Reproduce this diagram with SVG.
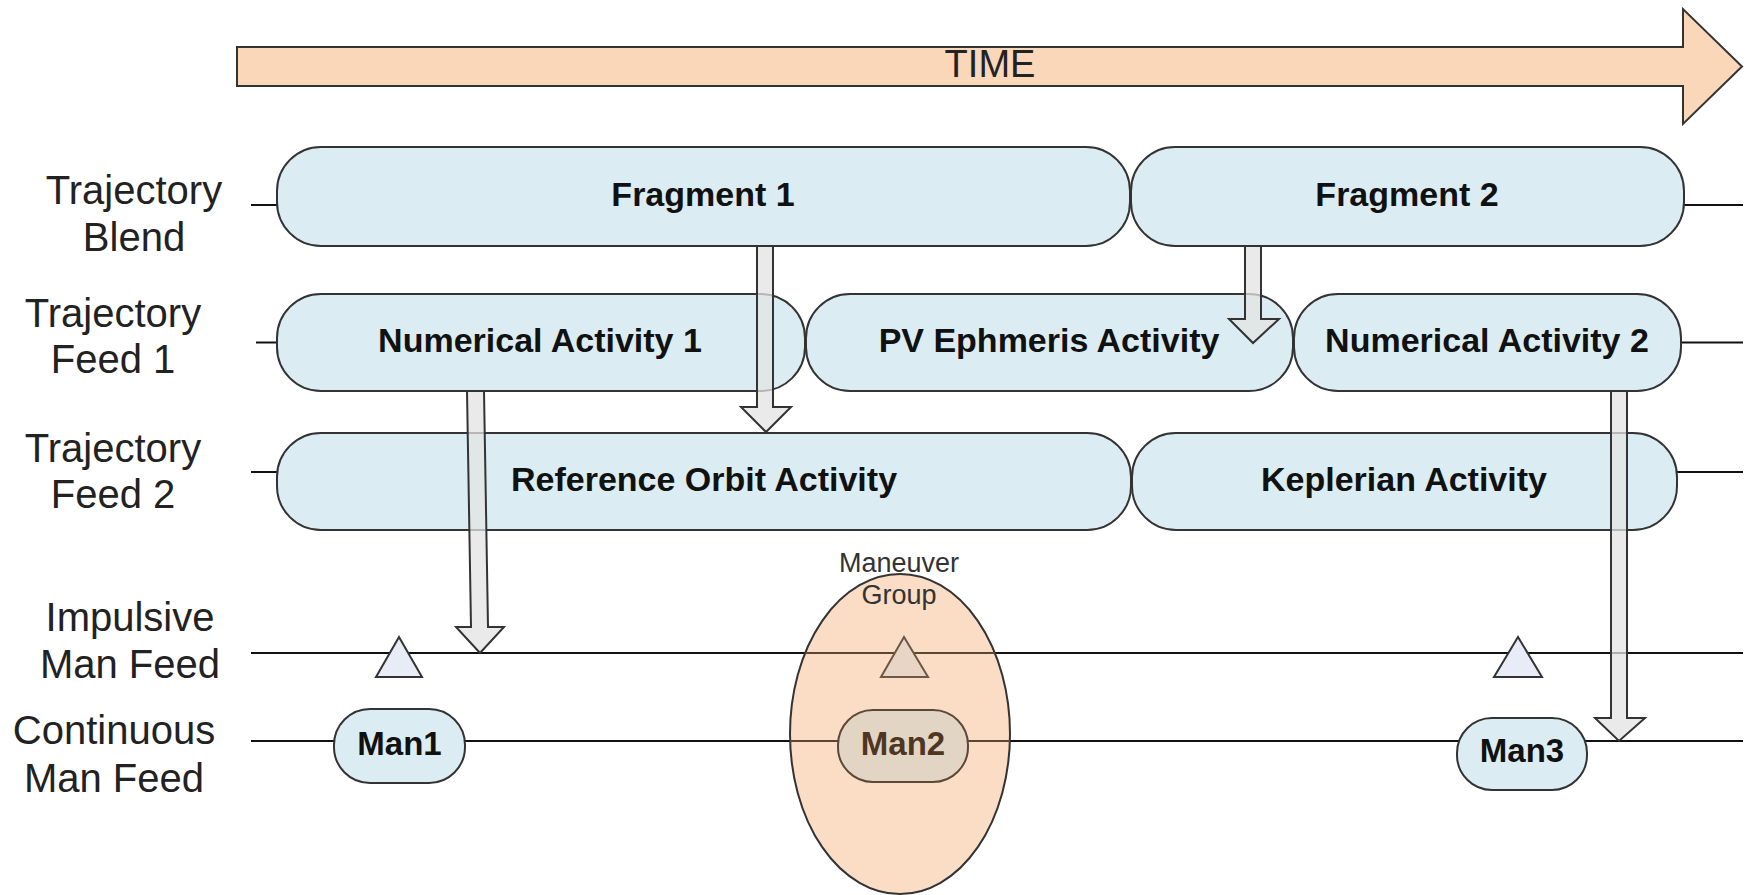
<svg xmlns="http://www.w3.org/2000/svg" width="1750" height="895" viewBox="0 0 1750 895">
  <style>
    .lbl { font-family: "Liberation Sans", Arial, sans-serif; font-size: 40px; fill: #222; text-anchor: middle; }
    .box { fill: #dbedf3; stroke: #333; stroke-width: 2; }
    .btxt { font-family: "Liberation Sans", Arial, sans-serif; font-size: 34px; font-weight: bold; fill: #111; text-anchor: middle; }
    .mtxt { font-family: "Liberation Sans", Arial, sans-serif; font-size: 33px; font-weight: bold; fill: #111; text-anchor: middle; }
    .tl { stroke: #111; stroke-width: 2; fill: none; }
    .tri { fill: #e8ecf7; stroke: #333; stroke-width: 2; }
    .garrow { fill: #e3e3e3; fill-opacity: 0.75; stroke: #333; stroke-width: 2; stroke-linejoin: miter; }
  </style>

  <g id="time-arrow">
    <polygon points="237,47 1683,47 1683,9 1742,66.5 1683,124 1683,86 237,86" fill="#fad7b9" stroke="#333" stroke-width="2"/>
    <text x="990" y="77" font-family="Liberation Sans, Arial, sans-serif" font-size="38" fill="#222" text-anchor="middle">TIME</text>
  </g>

  <g id="row-labels">
    <text class="lbl" x="134" y="204">Trajectory</text>
    <text class="lbl" x="134" y="251">Blend</text>
    <text class="lbl" x="113" y="327">Trajectory</text>
    <text class="lbl" x="113" y="373">Feed 1</text>
    <text class="lbl" x="113" y="462">Trajectory</text>
    <text class="lbl" x="113" y="508">Feed 2</text>
    <text class="lbl" x="130" y="631">Impulsive</text>
    <text class="lbl" x="130" y="678">Man Feed</text>
    <text class="lbl" x="114" y="744">Continuous</text>
    <text class="lbl" x="114" y="792">Man Feed</text>
  </g>

  <g id="timelines">
    <line class="tl" x1="251" y1="205" x2="277" y2="205"/>
    <line class="tl" x1="1684" y1="205" x2="1743" y2="205"/>
    <line class="tl" x1="256" y1="342.5" x2="277" y2="342.5"/>
    <line class="tl" x1="1681" y1="342.5" x2="1743" y2="342.5"/>
    <line class="tl" x1="251" y1="472" x2="277" y2="472"/>
    <line class="tl" x1="1677" y1="472" x2="1743" y2="472"/>
    <line class="tl" x1="251" y1="653" x2="1743" y2="653"/>
    <line class="tl" x1="251" y1="741" x2="1743" y2="741"/>
  </g>

  <g id="fragment-1"><rect class="box" x="277" y="147" width="853" height="99" rx="44"/><text class="btxt" x="703" y="206">Fragment 1</text></g>
  <g id="fragment-2"><rect class="box" x="1131" y="147" width="553" height="99" rx="44"/><text class="btxt" x="1407" y="206">Fragment 2</text></g>
  <g id="numerical-activity-1"><rect class="box" x="277" y="294" width="528" height="97" rx="44"/><text class="btxt" x="540" y="352">Numerical Activity 1</text></g>
  <g id="pv-ephmeris-activity"><rect class="box" x="806" y="294" width="487" height="97" rx="44"/><text class="btxt" x="1049" y="352">PV Ephmeris Activity</text></g>
  <g id="numerical-activity-2"><rect class="box" x="1294" y="294" width="387" height="97" rx="44"/><text class="btxt" x="1487" y="352">Numerical Activity 2</text></g>
  <g id="reference-orbit-activity"><rect class="box" x="277" y="433" width="854" height="97" rx="44"/><text class="btxt" x="704" y="491">Reference Orbit Activity</text></g>
  <g id="keplerian-activity"><rect class="box" x="1132" y="433" width="545" height="97" rx="44"/><text class="btxt" x="1404" y="491">Keplerian Activity</text></g>

  <g id="maneuver-group">
    <ellipse cx="900" cy="734" rx="110" ry="160" fill="#fbdcc4" stroke="#333" stroke-width="2"/>
    <line x1="805" y1="653" x2="995" y2="653" stroke="#5c4533" stroke-width="2"/>
    <line x1="790" y1="741" x2="1010" y2="741" stroke="#5c4533" stroke-width="2"/>
    <text x="899" y="572" font-family="Liberation Sans, Arial, sans-serif" font-size="27" fill="#333" text-anchor="middle">Maneuver</text>
    <text x="899" y="604" font-family="Liberation Sans, Arial, sans-serif" font-size="27" fill="#333" text-anchor="middle">Group</text>
  </g>

  <g id="man1">
    <polygon class="tri" points="399,637 376,677 422,677"/>
    <rect class="box" x="334" y="709" width="131" height="74" rx="36"/>
    <text class="mtxt" x="399.5" y="755">Man1</text>
  </g>
  <g id="man2">
    <polygon points="904,637 881,677 928,677" fill="#e8d5c5" stroke="#6b5846" stroke-width="2"/>
    <rect x="838" y="710" width="130" height="72" rx="35" fill="#e2d5c3" stroke="#5a4838" stroke-width="2"/>
    <text class="mtxt" x="903" y="755" style="fill:#4e3622">Man2</text>
  </g>
  <g id="man3">
    <polygon class="tri" points="1518,637 1494,677 1542,677"/>
    <rect class="box" x="1457" y="718" width="130" height="72" rx="35"/>
    <text class="mtxt" x="1522" y="762">Man3</text>
  </g>

  <g id="connectors">
    <polygon class="garrow" points="757,246 773,246 773,407 791,407 766,432 741,407 757,407"/>
    <polygon class="garrow" points="1245,246 1261,246 1261,319 1279,319 1253,343 1229,319 1245,319"/>
    <polygon class="garrow" points="467,391 484,391 488,627 504,627 480,653 456,627 471,627"/>
    <polygon class="garrow" points="1611,391 1627,391 1627,718 1645,718 1619,741 1595,718 1611,718"/>
  </g>
</svg>
